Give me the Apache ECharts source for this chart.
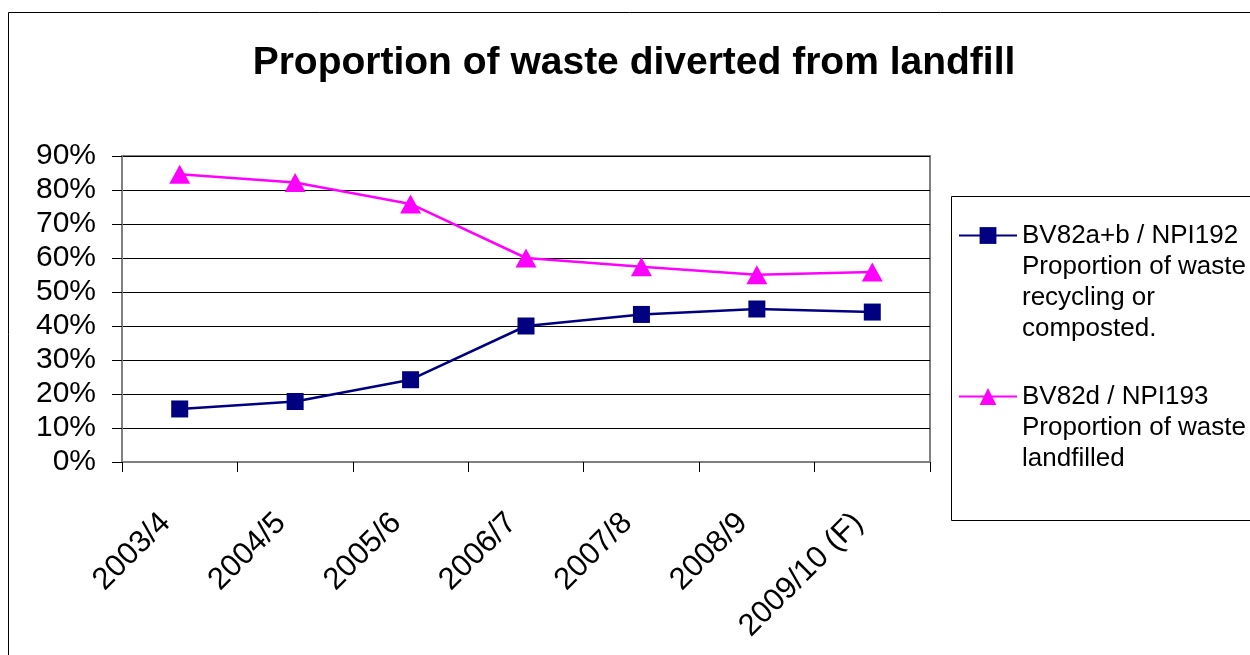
<!DOCTYPE html>
<html>
<head>
<meta charset="utf-8">
<script src="https://cdn.jsdelivr.net/npm/echarts@6/dist/echarts.min.js"></script>
<style>
html,body{margin:0;padding:0;background:#fff;}
#chart{width:1250px;height:655px;}
</style>
</head>
<body>
<div id="chart"></div>
<script>
const categories = ['2003/4', '2004/5', '2005/6', '2006/7', '2007/8', '2008/9', '2009/10 (F)'];
const recycledName = 'BV82a+b / NPI192\nProportion of waste\nrecycling or\ncomposted.';
const landfilledName = 'BV82d / NPI193\nProportion of waste\nlandfilled';
const recycledValues = [15.6, 17.8, 24.2, 40.0, 43.4, 45.0, 44.1];
const landfilledValues = [84.6, 82.2, 75.9, 60.0, 57.4, 55.1, 55.9];
const yTicks = [0, 10, 20, 30, 40, 50, 60, 70, 80, 90];
const titleText = 'Proportion of waste diverted from landfill';

const FONT = '"Liberation Sans", Arial, sans-serif';
const chart = echarts.init(document.getElementById('chart'), null, {renderer: 'canvas'});

function legendCfg(name, blanks, top) {
  return {
    data: [name],
    left: 958,
    top: top,
    orient: 'vertical',
    padding: 0,
    itemWidth: 58,
    itemHeight: 21,
    selectedMode: false,
    formatter: function (n) { return '\n'.repeat(blanks) + n; },
    textStyle: {fontFamily: FONT, fontSize: 26, lineHeight: 31, color: '#000'}
  };
}

chart.setOption({
  backgroundColor: '#fff',
  animation: false,
  title: {
    text: titleText,
    left: 629,
    textAlign: 'center',
    top: 36,
    textStyle: {fontFamily: FONT, fontSize: 39, fontWeight: 'bold', color: '#000', lineHeight: 44}
  },
  graphic: [
    {type: 'rect', shape: {x: 8.5, y: 12.5, width: 1400, height: 800}, style: {fill: 'none', stroke: '#000', lineWidth: 1}, z: -1},
    {type: 'rect', shape: {x: 951.5, y: 196.5, width: 400, height: 324}, style: {fill: 'none', stroke: '#000', lineWidth: 1}, z: -1}
  ],
  legend: [
    legendCfg(recycledName, 3, 127),
    legendCfg(landfilledName, 2, 319)
  ],
  grid: {
    left: 122, right: 320, top: 156, bottom: 193,
    show: true, borderColor: '#808080', borderWidth: 2, containLabel: false
  },
  xAxis: {
    type: 'category',
    data: categories,
    boundaryGap: true,
    axisLine: {show: true, lineStyle: {color: '#808080', width: 2}},
    axisTick: {show: true, length: 10, lineStyle: {color: '#000', width: 1}},
    axisLabel: {
      rotate: 45, interval: 0, margin: 42,
      fontFamily: FONT, fontSize: 31, color: '#000',
      padding: [0, 20, 0, 0]
    },
    splitLine: {show: false}
  },
  yAxis: {
    type: 'value',
    min: yTicks[0],
    max: yTicks[yTicks.length - 1],
    interval: 10,
    axisLine: {show: true, lineStyle: {color: '#808080', width: 2}},
    axisTick: {show: true, length: 10, lineStyle: {color: '#000', width: 1}},
    axisLabel: {
      margin: 26, fontFamily: FONT, fontSize: 30, color: '#000',
      formatter: function (v) { return Math.round(v) + '%'; }
    },
    splitLine: {show: true, lineStyle: {color: '#000', width: 1}}
  },
  series: [
    {
      name: recycledName,
      type: 'line',
      data: recycledValues,
      symbol: 'rect',
      symbolSize: 17,
      itemStyle: {color: '#000080'},
      lineStyle: {color: '#000080', width: 2.5},
      z: 3
    },
    {
      name: landfilledName,
      type: 'line',
      data: landfilledValues,
      symbol: 'triangle',
      symbolSize: [21, 19],
      itemStyle: {color: '#FF00FF'},
      lineStyle: {color: '#FF00FF', width: 2.5},
      z: 3
    }
  ]
});
</script>
</body>
</html>
